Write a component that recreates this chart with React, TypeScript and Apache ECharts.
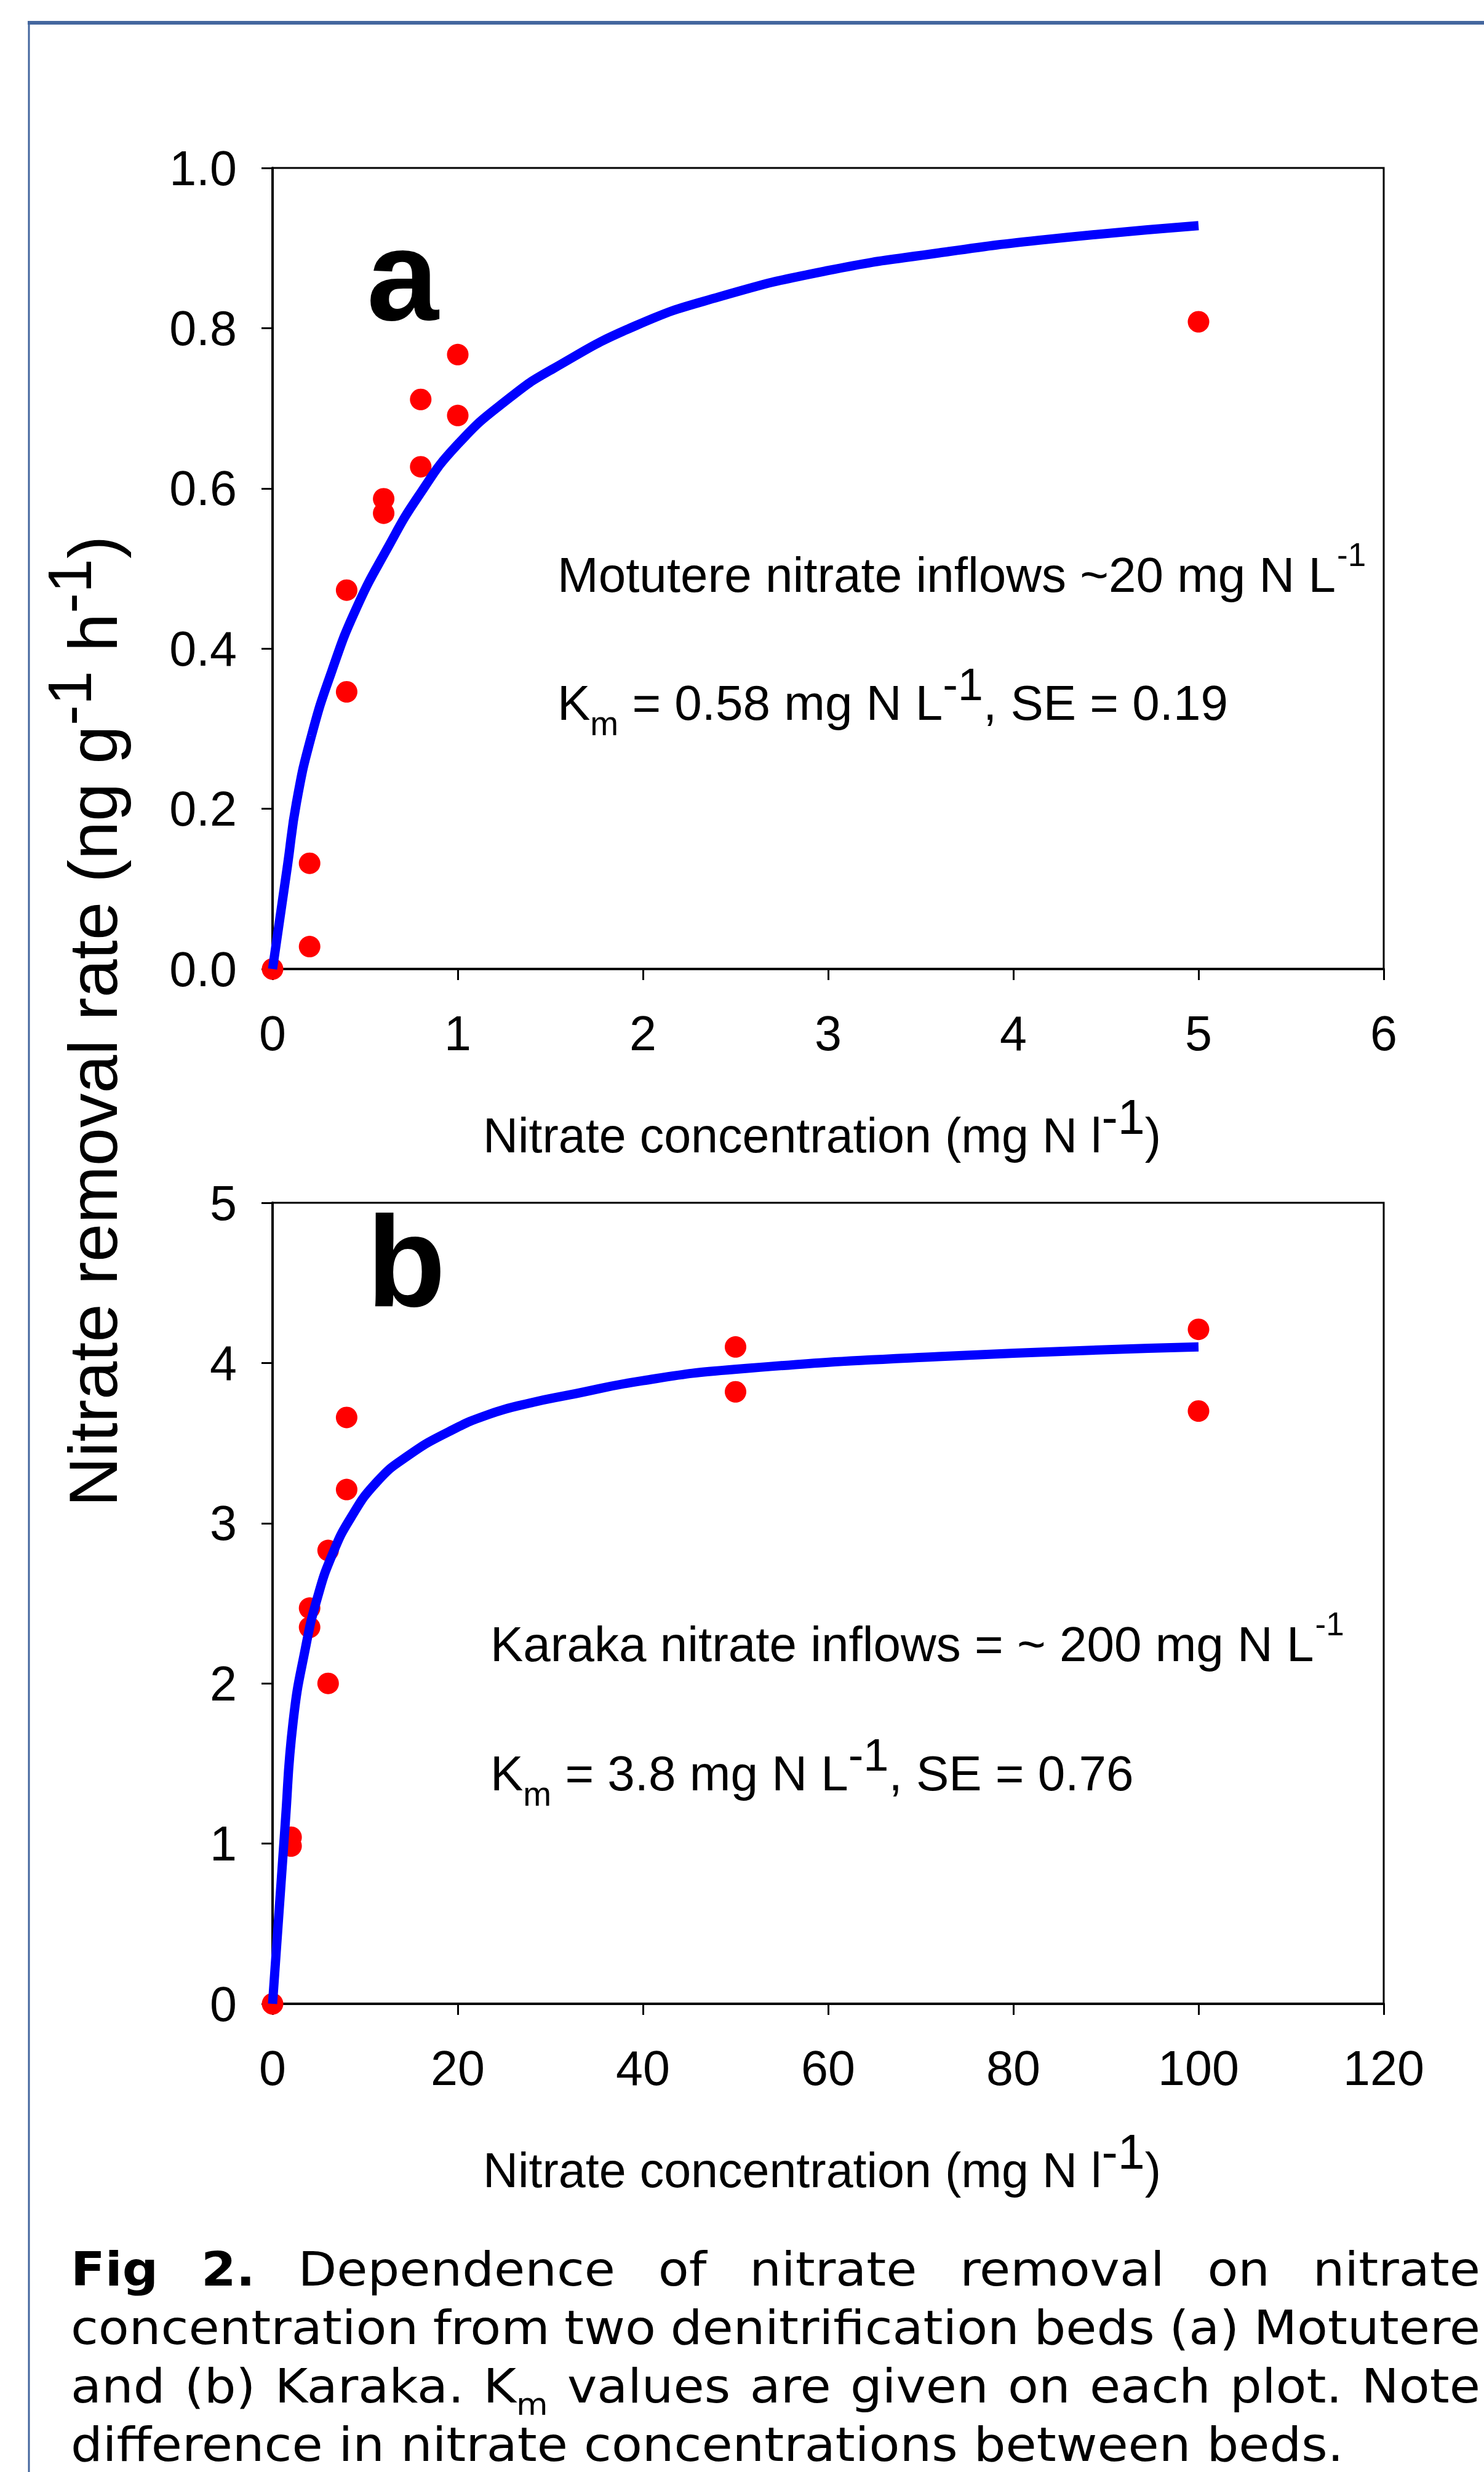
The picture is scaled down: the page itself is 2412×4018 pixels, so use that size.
import React, { useEffect, useRef } from 'react';
import * as echarts from 'echarts';

// ---------- data ----------
// Panel a: Motutere
const aConc = [0, 0.2, 0.2, 0.4, 0.4, 0.6, 0.6, 0.8, 0.8, 1.0, 1.0, 5.0];
const aRate = [0, 0.132, 0.028, 0.473, 0.346, 0.587, 0.569, 0.711, 0.627, 0.767, 0.691, 0.808];
const aFitConc = [0, 0.08, 0.13, 0.21, 0.32, 0.45, 0.62, 0.79, 1.0, 1.28, 1.52, 1.96, 2.41, 3.0, 3.6, 4.19, 5.0];
const aFitRate = [0, 0.128, 0.209, 0.291, 0.372, 0.449, 0.525, 0.591, 0.655, 0.713, 0.75, 0.803, 0.839, 0.872, 0.894, 0.911, 0.928];
// Panel b: Karaka
const bConc = [0, 2, 2, 4, 4, 6, 6, 8, 8, 50, 50, 100, 100];
const bRate = [0, 1.04, 0.985, 2.47, 2.35, 2.83, 2.0, 3.66, 3.21, 4.1, 3.82, 4.21, 3.7];
const bFitConc = [0, 1.35, 2.22, 3.55, 4.87, 6.42, 8.41, 11.3, 14.6, 19.0, 23.4, 27.8, 32.0, 40.0, 49.9, 71.9, 100];
const bFitRate = [0, 1.11, 1.76, 2.22, 2.54, 2.8, 3.03, 3.26, 3.42, 3.57, 3.68, 3.75, 3.8, 3.89, 3.96, 4.04, 4.1];

// axis ranges
const aXRange = { min: 0, max: 6, interval: 1 };
const aYRange = { min: 0, max: 1, interval: 0.2 };
const bXRange = { min: 0, max: 120, interval: 20 };
const bYRange = { min: 0, max: 5, interval: 1 };

// texts
const xTitle = 'Nitrate concentration (mg N l';
const yTitleParts = ['Nitrate removal rate (ng g', ' h', ')'];
const aNote1 = 'Motutere nitrate inflows ~20 mg N L';
const aNote2 = [' = 0.58 mg N L', ', SE = 0.19'];
const bNote1 = 'Karaka nitrate inflows = ~ 200 mg N L';
const bNote2 = [' = 3.8 mg N L', ', SE = 0.76'];
const captionLines = [
  [{ t: 'Fig', b: true }, { t: '2.', b: true }, { t: 'Dependence' }, { t: 'of' }, { t: 'nitrate' }, { t: 'removal' }, { t: 'on' }, { t: 'nitrate' }],
  [{ t: 'concentration' }, { t: 'from' }, { t: 'two' }, { t: 'denitrification' }, { t: 'beds' }, { t: '(a)' }, { t: 'Motutere' }],
  [{ t: 'and' }, { t: '(b)' }, { t: 'Karaka.' }, { t: 'K', sub: 'm' }, { t: 'values' }, { t: 'are' }, { t: 'given' }, { t: 'on' }, { t: 'each' }, { t: 'plot.' }, { t: 'Note' }],
  [{ t: 'difference in nitrate concentrations between beds.' }],
];

const AR = 'Liberation Sans';
const DJ = 'DejaVu Sans';
const CENTRAL = 0.3465;

let ctx: CanvasRenderingContext2D | null = null;
function tw(text: string, size: number, family = AR, weight = 'normal') {
  if (!ctx) ctx = document.createElement('canvas').getContext('2d');
  ctx!.font = `${weight} ${size}px ${family}`;
  return ctx!.measureText(text).width;
}
function T(text: string, x: number, baseline: number, size: number, family = AR, weight = 'normal', sx = 1): any {
  return {
    type: 'text', x, y: baseline - CENTRAL * size, scaleX: sx, silent: true, z: 50,
    style: { text, font: `${weight} ${size}px ${family}`, fill: '#000', textAlign: 'left', textVerticalAlign: 'middle', verticalAlign: 'middle' },
  };
}
type Seg = { t: string; size: number; dy?: number; w?: string; f?: string };
function runs(segs: Seg[], x0: number, baseline: number): { els: any[]; width: number } {
  let x = x0;
  const els: any[] = [];
  segs.forEach((s) => {
    els.push(T(s.t, x, baseline + (s.dy || 0), s.size, s.f || AR, s.w || 'normal'));
    x += tw(s.t, s.size, s.f || AR, s.w || 'normal');
  });
  return { els, width: x - x0 };
}

function buildGraphic() {
  const els: any[] = [];
  // page frame (blue)
  els.push({ type: 'line', silent: true, shape: { x1: 45, y1: 37, x2: 2412, y2: 37 }, style: { stroke: '#44679E', lineWidth: 6 } });
  els.push({ type: 'line', silent: true, shape: { x1: 47, y1: 34, x2: 47, y2: 4018 }, style: { stroke: '#44679E', lineWidth: 3 } });

  // panel letters
  els.push(T('a', 596, 520, 210, AR, 'bold'));
  els.push(T('b', 596, 2123, 210, AR, 'bold'));

  // x titles
  const dyB = 3257 - 1575;
  [1873, 1873 + dyB].forEach((bl) => {
    els.push(...runs([{ t: xTitle, size: 79 }, { t: '-1', size: 79, dy: -30 }, { t: ')', size: 79 }], 785, bl).els);
  });

  // y title (rotated)
  const ySegs: Seg[] = [
    { t: yTitleParts[0], size: 112 }, { t: '-1', size: 100, dy: -42 },
    { t: yTitleParts[1], size: 112 }, { t: '-1', size: 100, dy: -42 }, { t: yTitleParts[2], size: 112 },
  ];
  const yW = ySegs.reduce((s, g) => s + tw(g.t, g.size), 0);
  const yr = runs(ySegs, -yW / 2, 0);
  els.push({ type: 'group', x: 190, y: 1660, rotation: Math.PI / 2, children: yr.els });

  // annotations panel a
  const a1 = runs([{ t: aNote1, size: 80 }], 906, 962);
  els.push(...a1.els);
  els.push(T('-1', 906 + a1.width + 2, 920, 53));
  els.push(...runs([{ t: 'K', size: 80 }, { t: 'm', size: 55, dy: 25 }, { t: aNote2[0], size: 80 }, { t: '-1', size: 74, dy: -32 }, { t: aNote2[1], size: 80 }], 906, 1170).els);
  // annotations panel b
  const b1 = runs([{ t: bNote1, size: 80 }], 797, 2700);
  els.push(...b1.els);
  els.push(T('-1', 797 + b1.width + 2, 2658, 53));
  els.push(...runs([{ t: 'K', size: 80 }, { t: 'm', size: 55, dy: 25 }, { t: bNote2[0], size: 80 }, { t: '-1', size: 74, dy: -32 }, { t: bNote2[1], size: 80 }], 797, 2910).els);

  // caption (justified)
  const CS = 77, SUBS = 50, SX = 1.06;
  const left = 115, right = 2406;
  const baselines = [3715, 3810, 3905, 4000];
  captionLines.forEach((words: any[], li) => {
    const bl = baselines[li];
    const widths = words.map((w) => SX * (tw(w.t, CS, DJ, w.b ? 'bold' : 'normal') + (w.sub ? tw(w.sub, SUBS, DJ) : 0)));
    const total = widths.reduce((a, b) => a + b, 0);
    const gap = words.length > 1 && li < 3 ? (right - left - total) / (words.length - 1) : 0;
    let x = left;
    words.forEach((w, i) => {
      els.push(T(w.t, x, bl, CS, DJ, w.b ? 'bold' : 'normal', SX));
      if (w.sub) els.push(T(w.sub, x + SX * tw(w.t, CS, DJ), bl + 20, SUBS, DJ, 'normal', SX));
      x += widths[i] + gap;
    });
  });
  return els;
}

function axisCommon(range: any, gridIndex: number, labelMargin: number, fmt?: (v: number) => string): any {
  return {
    type: 'value', gridIndex, min: range.min, max: range.max, interval: range.interval,
    axisLine: { show: true, onZero: false, lineStyle: { color: '#000', width: 4 } },
    axisTick: { show: true, inside: false, length: 18, lineStyle: { color: '#000', width: 3 } },
    axisLabel: { show: true, fontSize: 79, fontFamily: AR, color: '#000', margin: labelMargin, formatter: fmt },
    splitLine: { show: false },
  };
}

export default function App() {
  const ref = useRef<HTMLDivElement>(null);
  useEffect(() => {
    document.body.style.margin = '0';
    const chart = echarts.init(ref.current!, null, { renderer: 'svg' });
    const gridBase = { left: 443, width: 1806, height: 1302, show: true, borderColor: '#000', borderWidth: 3, backgroundColor: 'transparent' };
    const scatterStyle = { color: '#FF0000', opacity: 1 };
    const lineStyle = { color: '#0000FF', width: 15, cap: 'butt', opacity: 1 };
    const option: any = {
      animation: false,
      backgroundColor: '#ffffff',
      grid: [{ ...gridBase, top: 273 }, { ...gridBase, top: 1955 }],
      xAxis: [axisCommon(aXRange, 0, 65), axisCommon(bXRange, 1, 65)],
      yAxis: [
        axisCommon(aYRange, 0, 58, (v: number) => v.toFixed(1)),
        axisCommon(bYRange, 1, 58, (v: number) => String(Math.round(v))),
      ],
      series: [
        {
          type: 'scatter', xAxisIndex: 0, yAxisIndex: 0, clip: false, z: 2,
          symbol: 'circle', symbolSize: 35, itemStyle: scatterStyle,
          data: aConc.map((x, i) => [x, aRate[i]]),
        },
        {
          type: 'line', xAxisIndex: 0, yAxisIndex: 0, clip: false, z: 3, showSymbol: false,
          smooth: 0.5, lineStyle,
          data: aFitConc.map((x, i) => [x, aFitRate[i]]),
        },
        {
          type: 'scatter', xAxisIndex: 1, yAxisIndex: 1, clip: false, z: 2,
          symbol: 'circle', symbolSize: 35, itemStyle: scatterStyle,
          data: bConc.map((x, i) => [x, bRate[i]]),
        },
        {
          type: 'line', xAxisIndex: 1, yAxisIndex: 1, clip: false, z: 3, showSymbol: false,
          smooth: 0.5, lineStyle,
          data: bFitConc.map((x, i) => [x, bFitRate[i]]),
        },
      ],
      graphic: { elements: buildGraphic() },
    };
    chart.setOption(option);
    return () => chart.dispose();
  }, []);
  return <div ref={ref} style={{ width: 2412, height: 4018 }} />;
}
